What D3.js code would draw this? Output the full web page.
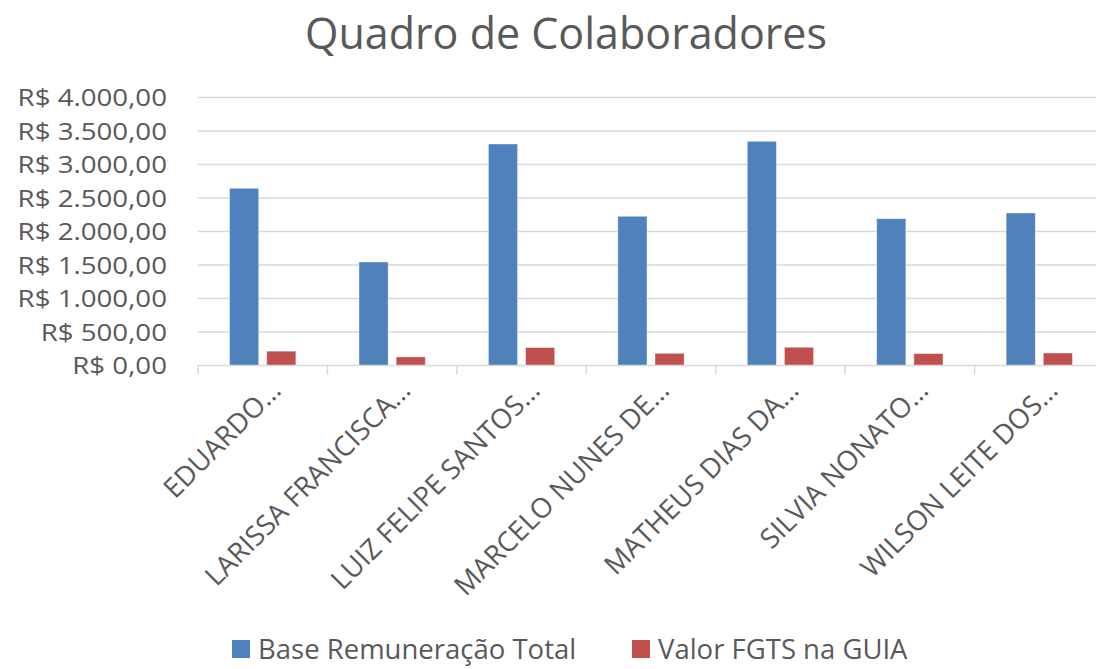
<!DOCTYPE html>
<html>
<head>
<meta charset="utf-8">
<script src="https://cdn.jsdelivr.net/npm/d3@7"></script>
<style>
  body { margin: 0; background: #fff; }
  svg text { font-family: "Open Sans", "Noto Sans", sans-serif; fill: #595959; }
</style>
</head>
<body>
<div id="chart"></div>
<script>
// categories (names as truncated by the chart)
const colaboradores = ["EDUARDO…", "LARISSA FRANCISCA…", "LUIZ FELIPE SANTOS…", "MARCELO NUNES DE…",
  "MATHEUS DIAS DA…", "SILVIA NONATO…", "WILSON LEITE DOS…"];
const series = ["Base Remuneração Total", "Valor FGTS na GUIA"];
const baseRemuneracao = [2645, 1545, 3306, 2227, 3346, 2191, 2276];
const valorFgts = [214, 128, 268, 182, 272, 178, 186];
const yTicks = [0, 500, 1000, 1500, 2000, 2500, 3000, 3500, 4000];

const colors = ["#4F81BD", "#C0504D"];

const W = 1096, H = 669;
const plot = { left: 198, right: 1104, top: 97.5, bottom: 365.5 };

const data = colaboradores.map((c, i) => ({ name: c, values: [baseRemuneracao[i], valorFgts[i]] }));

const svg = d3.select("#chart").append("svg")
  .attr("width", W).attr("height", H);

// title
svg.append("text")
  .attr("x", 566).attr("y", 49)
  .attr("text-anchor", "middle")
  .style("font-size", "43px")
  .text("Quadro de Colaboradores");

const x0 = d3.scaleBand().domain(colaboradores).range([plot.left, plot.right]).padding(0);
const x1 = d3.scaleBand().domain([0, 1]).range([0, x0.bandwidth()])
  .paddingInner(0.216).paddingOuter(0.85);
const y = d3.scaleLinear().domain([0, 4000]).range([plot.bottom, plot.top]);

const fmt = v => "R$ " + d3.format(",.2f")(v).replace(/,/g, "X").replace(/\./g, ",").replace(/X/g, ".");

// gridlines
svg.append("g").selectAll("line")
  .data(yTicks.filter(d => d > 0))
  .join("line")
  .attr("x1", plot.left).attr("x2", W)
  .attr("y1", d => y(d)).attr("y2", d => y(d))
  .attr("stroke", "#d9d9d9").attr("stroke-width", 1.5);

// y labels (slightly stretched sideways, like the narrow font of the original)
svg.append("g").selectAll("text")
  .data(yTicks)
  .join("text")
  .attr("transform", d => `translate(167,${y(d)}) scale(1.13,1)`)
  .attr("dy", "0.36em")
  .attr("text-anchor", "end")
  .style("font-size", "24.5px")
  .text(fmt);

// bars
const groups = svg.append("g").selectAll("g")
  .data(data)
  .join("g")
  .attr("transform", d => `translate(${x0(d.name)},0)`);

groups.selectAll("rect")
  .data(d => d.values.map((v, k) => ({ k, v })))
  .join("rect")
  .attr("x", d => x1(d.k))
  .attr("width", x1.bandwidth())
  .attr("y", d => y(d.v))
  .attr("height", d => y(0) - y(d.v))
  .attr("fill", d => colors[d.k])
  .attr("stroke", "#fff").attr("stroke-opacity", 0.5).attr("stroke-width", 0.75);

// x axis line and category ticks
svg.append("line")
  .attr("x1", plot.left).attr("x2", W)
  .attr("y1", plot.bottom).attr("y2", plot.bottom)
  .attr("stroke", "#d9d9d9").attr("stroke-width", 1.5);

svg.append("g").selectAll("line")
  .data(colaboradores)
  .join("line")
  .attr("x1", d => x0(d)).attr("x2", d => x0(d))
  .attr("y1", plot.bottom).attr("y2", plot.bottom + 9)
  .attr("stroke", "#d9d9d9").attr("stroke-width", 1.5);

// category labels, rotated
svg.append("g").selectAll("text")
  .data(colaboradores)
  .join("text")
  .attr("transform", d => `translate(${x0(d) + x0.bandwidth() / 2 + 20},392) rotate(-45)`)
  .attr("text-anchor", "end")
  .style("font-size", "27.5px")
  .text(d => d);

// legend
const legend = svg.append("g").selectAll("g")
  .data(series)
  .join("g")
  .attr("transform", (d, i) => `translate(${[232, 632][i]},640)`);

legend.append("rect")
  .attr("width", 18).attr("height", 18)
  .attr("fill", (d, i) => colors[i]);

legend.append("text")
  .attr("x", 26).attr("y", 9).attr("dy", "0.36em")
  .style("font-size", "27.5px")
  .text(d => d);
</script>
</body>
</html>
